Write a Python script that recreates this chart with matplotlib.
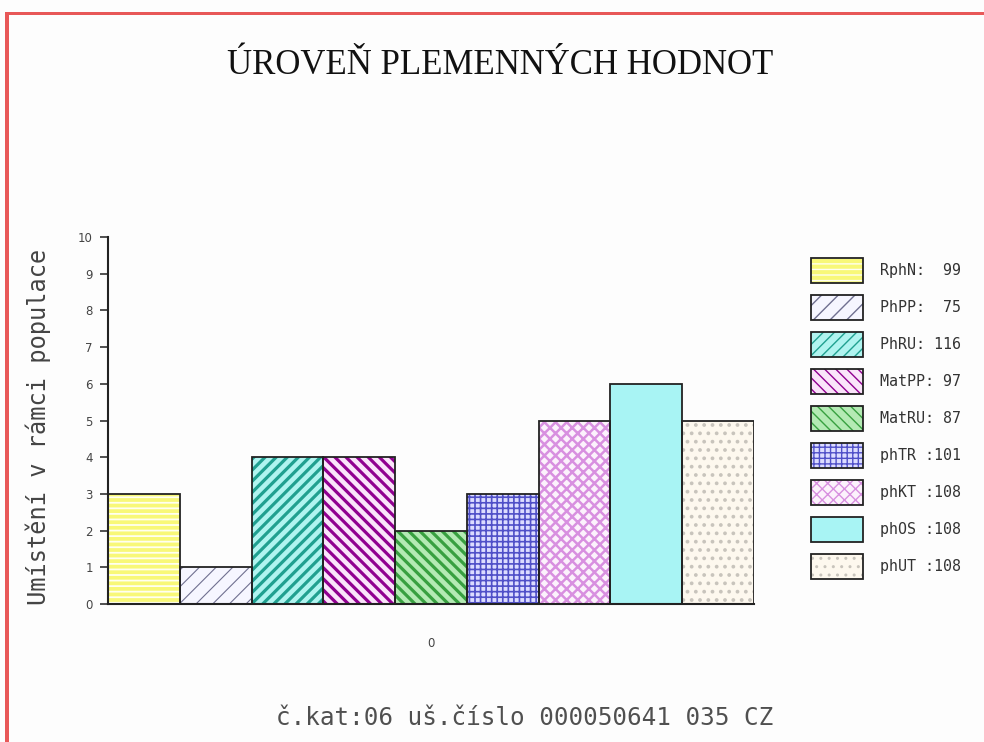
import matplotlib
matplotlib.use("Agg")
import matplotlib.pyplot as plt
from matplotlib.patches import Rectangle
from matplotlib.legend_handler import HandlerTuple
import numpy as np

# values
labels = ["RphN:  99", "PhPP:  75", "PhRU: 116", "MatPP: 97", "MatRU: 87",
          "phTR :101", "phKT :108", "phOS :108", "phUT :108"]
values = [3, 1, 4, 4, 2, 3, 5, 6, 5]
face_colors = ["#f8f878", "#f6f6ff", "#b0f4f0", "#fae4fa", "#b4eab4",
               "#dcdcff", "#fcf2fc", "#a8f4f4", "#fdf8ee"]
hatch_colors = ["#fffff0", "#707090", "#20a090", "#900090", "#38a040",
                "#5050c8", "#d890e0", "#a8f4f4", "#c8c4bc"]
hatches = ["---", "//", "///", "\\\\\\", "\\\\\\", "+++", "xxx", None, ".."]
hatch_widths = [1.3, 0.8, 2.3, 2.3, 2.3, 1.2, 1.8, 0.0, 1.5]
y_ticks = list(range(0, 11))
category = "0"

title = "ÚROVEŇ PLEMENNÝCH HODNOT"
y_label = "Umístění v rámci populace"
footer = "č.kat:06 uš.číslo 000050641 035 CZ"

W, H = 984, 742
fig = plt.figure(figsize=(W / 100, H / 100), dpi=100, facecolor="#fdfdfd")
ax = fig.add_axes([108 / W, 1 - 604 / H, (754 - 108) / W, (604 - 237) / H])
ax.set_facecolor("#fdfdfd")

pos = np.arange(len(values)) - (len(values) - 1) / 2
handles = []
for i, v in enumerate(values):
    fill = ax.bar(pos[i], v, width=1, color=face_colors[i], linewidth=0, zorder=2)
    parts = [fill[0]]
    if hatches[i]:
        with plt.rc_context({"hatch.linewidth": hatch_widths[i]}):
            h = ax.bar(pos[i], v, width=1, facecolor="none", edgecolor=hatch_colors[i],
                       linewidth=0, hatch=hatches[i], zorder=3)
        if hasattr(h[0], "set_hatch_linewidth"):
            h[0].set_hatch_linewidth(hatch_widths[i])
        parts.append(h[0])
    outline = ax.bar(pos[i], v, width=1, facecolor="none", edgecolor="#222222",
                     linewidth=1.3, zorder=4)
    parts.append(outline[0])
    handles.append(tuple(parts))

ax.set_xlim(pos[0] - 0.5, pos[-1] + 0.5)
ax.set_ylim(0, 10)
ax.set_yticks(y_ticks)
ax.set_yticklabels([str(t) for t in y_ticks], fontsize=8.5, color="#444444")
ax.set_xticks([0])
ax.set_xticklabels([category], fontsize=8.5, color="#444444")
ax.tick_params(axis="x", length=0, pad=24)
ax.tick_params(axis="y", length=6, width=1.2, color="#333333", pad=5)
for s in ["top", "right"]:
    ax.spines[s].set_visible(False)
for s in ["left", "bottom"]:
    ax.spines[s].set_linewidth(1.5)
    ax.spines[s].set_color("#222222")
    ax.spines[s].set_zorder(5)

fs = 10.8
px = fs * 100 / 72
# legend box height = fs * (0.65 * handleheight + 0.245)
hh = (25 / px - 0.245) / 0.65
leg = fig.legend(handles, labels, handler_map={tuple: HandlerTuple(ndivide=1)},
                 loc="upper left", bbox_to_anchor=(811 / W, 1 - 258 / H),
                 frameon=False, borderpad=0, borderaxespad=0,
                 prop={"family": "DejaVu Sans Mono", "size": fs},
                 handlelength=52 / px, handleheight=hh,
                 labelspacing=12 / px, handletextpad=17 / px)
for t in leg.get_texts():
    t.set_color("#333333")

fig.text(500 / W, 1 - 65 / H, title, ha="center", va="center",
         family="Liberation Serif", fontsize=25, color="#111111")
fig.text(38 / W, 1 - 427 / H, y_label, ha="center", va="center", rotation=90,
         family="DejaVu Sans Mono", fontsize=17, color="#444444")
fig.text(525 / W, 1 - 718 / H, footer, ha="center", va="center",
         family="DejaVu Sans Mono", fontsize=17.5, color="#505050")

# red frame on the left and top edge
fig.add_artist(Rectangle((5 / W, 0), 4 / W, (H - 12) / H, transform=fig.transFigure,
                         color="#e85858", linewidth=0))
fig.add_artist(Rectangle((5 / W, 1 - 15 / H), 1 - 5 / W, 3 / H, transform=fig.transFigure,
                         color="#e85858", linewidth=0))

fig.savefig("out.png", dpi=100, facecolor=fig.get_facecolor())
